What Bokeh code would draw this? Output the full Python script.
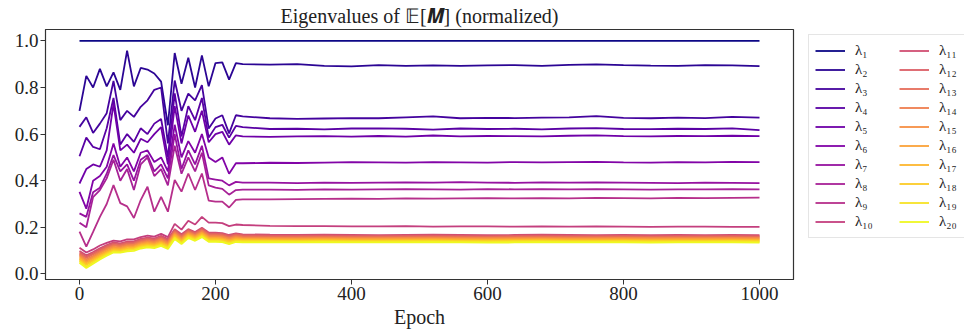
from bokeh.plotting import figure
from bokeh.models import Legend, LegendItem, FixedTicker, Range1d, PrintfTickFormatter
from bokeh.palettes import Plasma256
from bokeh.embed import file_html
from bokeh.resources import INLINE

EPOCHS = [0, 10, 20, 30, 40, 50, 60, 70, 80, 90, 100, 110, 120, 130, 140, 150, 160, 170, 180, 190,
          200, 210, 220, 230, 240, 280, 320, 360, 400, 440, 480, 520, 560, 600, 640, 680, 720, 760,
          800, 840, 880, 920, 960, 1000]

lam1 = [1.0, 1.0, 1.0, 1.0, 1.0, 1.0, 1.0, 1.0, 1.0, 1.0, 1.0, 1.0, 1.0, 1.0, 1.0, 1.0, 1.0, 1.0, 1.0, 1.0,
        1.0, 1.0, 1.0, 1.0, 1.0, 1.0, 1.0, 1.0, 1.0, 1.0, 1.0, 1.0, 1.0, 1.0, 1.0, 1.0, 1.0, 1.0,
        1.0, 1.0, 1.0, 1.0, 1.0, 1.0]
lam2 = [0.70, 0.85, 0.80, 0.88, 0.805, 0.865, 0.79, 0.958, 0.805, 0.884, 0.877, 0.86, 0.825, 0.638, 0.948,
        0.816, 0.928, 0.80, 0.938, 0.805, 0.905, 0.908, 0.834, 0.905, 0.90,
        0.898, 0.900, 0.893, 0.891, 0.896, 0.893, 0.895, 0.893, 0.895, 0.896, 0.893, 0.897, 0.899, 0.896,
        0.894, 0.893, 0.896, 0.895, 0.892]
lam3 = [0.631, 0.672, 0.605, 0.645, 0.69, 0.828, 0.66, 0.70, 0.674, 0.717, 0.745, 0.79, 0.80, 0.56, 0.83,
        0.70, 0.774, 0.745, 0.81, 0.624, 0.667, 0.681, 0.603, 0.681, 0.676,
        0.668, 0.665, 0.667, 0.669, 0.668, 0.672, 0.676, 0.668, 0.670, 0.669, 0.671, 0.672, 0.677, 0.670,
        0.668, 0.671, 0.669, 0.674, 0.671]
lam4 = [0.505, 0.585, 0.545, 0.535, 0.625, 0.755, 0.555, 0.60, 0.567, 0.625, 0.60, 0.645, 0.665, 0.50, 0.775,
        0.59, 0.72, 0.66, 0.755, 0.585, 0.63, 0.64, 0.585, 0.635, 0.63,
        0.622, 0.623, 0.620, 0.624, 0.625, 0.623, 0.619, 0.624, 0.622, 0.623, 0.620, 0.624, 0.626, 0.622,
        0.621, 0.623, 0.622, 0.625, 0.617]
lam5 = [0.388, 0.45, 0.47, 0.46, 0.53, 0.73, 0.53, 0.555, 0.52, 0.58, 0.565, 0.60, 0.63, 0.47, 0.72,
        0.56, 0.68, 0.61, 0.70, 0.565, 0.60, 0.61, 0.555, 0.595, 0.59,
        0.588, 0.590, 0.591, 0.589, 0.592, 0.589, 0.594, 0.590, 0.592, 0.591, 0.590, 0.593, 0.595, 0.591,
        0.590, 0.592, 0.591, 0.593, 0.591]
lam6 = [0.352, 0.28, 0.40, 0.42, 0.46, 0.56, 0.46, 0.50, 0.44, 0.52, 0.53, 0.48, 0.50, 0.44, 0.64,
        0.50, 0.57, 0.52, 0.60, 0.50, 0.48, 0.50, 0.43, 0.475, 0.475,
        0.477, 0.476, 0.478, 0.480, 0.479, 0.478, 0.480, 0.479, 0.478, 0.480, 0.479, 0.480, 0.481, 0.479,
        0.478, 0.480, 0.479, 0.481, 0.480]
lam7 = [0.26, 0.245, 0.35, 0.37, 0.43, 0.51, 0.44, 0.47, 0.40, 0.49, 0.51, 0.44, 0.47, 0.41, 0.60,
        0.45, 0.53, 0.47, 0.55, 0.41, 0.405, 0.40, 0.38, 0.395, 0.392,
        0.392, 0.390, 0.392, 0.391, 0.392, 0.393, 0.392, 0.394, 0.392, 0.391, 0.393, 0.392, 0.393, 0.392,
        0.391, 0.390, 0.392, 0.391, 0.390]
lam8 = [0.22, 0.20, 0.33, 0.36, 0.41, 0.49, 0.40, 0.45, 0.36, 0.47, 0.50, 0.42, 0.45, 0.38, 0.55,
        0.43, 0.50, 0.44, 0.52, 0.38, 0.37, 0.365, 0.34, 0.36, 0.362,
        0.362, 0.361, 0.363, 0.362, 0.363, 0.364, 0.363, 0.362, 0.364, 0.363, 0.364, 0.363, 0.364, 0.363,
        0.362, 0.363, 0.363, 0.364, 0.363]
lam9 = [0.181, 0.117, 0.18, 0.245, 0.30, 0.381, 0.304, 0.29, 0.24, 0.317, 0.374, 0.267, 0.331, 0.267, 0.403,
        0.353, 0.431, 0.36, 0.431, 0.315, 0.31, 0.31, 0.285, 0.318, 0.32,
        0.320, 0.321, 0.322, 0.323, 0.322, 0.324, 0.323, 0.324, 0.325, 0.324, 0.325, 0.324, 0.326, 0.325,
        0.324, 0.326, 0.325, 0.326, 0.327]
lam10 = [0.112, 0.092, 0.105, 0.122, 0.133, 0.143, 0.140, 0.148, 0.148, 0.158, 0.164, 0.160, 0.172, 0.158, 0.215,
         0.190, 0.228, 0.212, 0.245, 0.220, 0.220, 0.218, 0.205, 0.212, 0.210,
         0.206, 0.205, 0.205, 0.204, 0.204, 0.205, 0.203, 0.204, 0.204, 0.203, 0.204, 0.203, 0.204, 0.203,
         0.202, 0.203, 0.203, 0.202, 0.202]
lam11 = [0.098, 0.080, 0.094, 0.110, 0.124, 0.135, 0.131, 0.139, 0.140, 0.150, 0.156, 0.152, 0.163, 0.150, 0.192,
         0.170, 0.192, 0.180, 0.198, 0.178, 0.177, 0.175, 0.167, 0.174, 0.170,
         0.168, 0.167, 0.168, 0.167, 0.166, 0.167, 0.168, 0.167, 0.166, 0.167, 0.168, 0.167, 0.166, 0.167,
         0.166, 0.167, 0.166, 0.167, 0.166]
lam12 = [0.092, 0.074, 0.088, 0.105, 0.119, 0.130, 0.127, 0.134, 0.135, 0.145, 0.151, 0.147, 0.158, 0.145, 0.187,
         0.165, 0.188, 0.176, 0.194, 0.174, 0.173, 0.171, 0.163, 0.170, 0.166,
         0.164, 0.163, 0.164, 0.163, 0.163, 0.163, 0.164, 0.163, 0.162, 0.163, 0.164, 0.163, 0.163, 0.163,
         0.162, 0.163, 0.163, 0.163, 0.162]
lam13 = [0.087, 0.068, 0.083, 0.099, 0.114, 0.125, 0.122, 0.130, 0.131, 0.141, 0.147, 0.143, 0.153, 0.140, 0.183,
         0.161, 0.184, 0.172, 0.189, 0.169, 0.168, 0.166, 0.158, 0.166, 0.162,
         0.160, 0.160, 0.160, 0.159, 0.159, 0.160, 0.160, 0.159, 0.159, 0.160, 0.160, 0.159, 0.159, 0.160,
         0.159, 0.159, 0.159, 0.160, 0.159]
lam14 = [0.081, 0.062, 0.077, 0.094, 0.109, 0.121, 0.118, 0.125, 0.126, 0.136, 0.142, 0.138, 0.149, 0.136, 0.178,
         0.156, 0.179, 0.167, 0.185, 0.165, 0.164, 0.162, 0.154, 0.162, 0.158,
         0.156, 0.156, 0.157, 0.156, 0.156, 0.156, 0.157, 0.156, 0.155, 0.156, 0.157, 0.156, 0.156, 0.156,
         0.155, 0.156, 0.156, 0.156, 0.155]
lam15 = [0.076, 0.056, 0.072, 0.089, 0.104, 0.116, 0.113, 0.120, 0.122, 0.132, 0.137, 0.134, 0.144, 0.131, 0.173,
         0.151, 0.175, 0.163, 0.180, 0.160, 0.160, 0.158, 0.150, 0.158, 0.154,
         0.153, 0.152, 0.153, 0.152, 0.152, 0.153, 0.153, 0.152, 0.152, 0.153, 0.153, 0.152, 0.152, 0.153,
         0.152, 0.152, 0.152, 0.153, 0.152]
lam16 = [0.070, 0.050, 0.066, 0.083, 0.098, 0.111, 0.109, 0.116, 0.117, 0.127, 0.133, 0.129, 0.139, 0.126, 0.169,
         0.147, 0.171, 0.159, 0.176, 0.156, 0.155, 0.153, 0.145, 0.154, 0.150,
         0.149, 0.149, 0.150, 0.149, 0.149, 0.149, 0.150, 0.149, 0.148, 0.149, 0.150, 0.149, 0.149, 0.149,
         0.148, 0.149, 0.149, 0.149, 0.148]
lam17 = [0.065, 0.044, 0.061, 0.078, 0.093, 0.106, 0.104, 0.111, 0.113, 0.123, 0.128, 0.125, 0.134, 0.121, 0.164,
         0.142, 0.167, 0.155, 0.171, 0.151, 0.151, 0.149, 0.141, 0.149, 0.147,
         0.146, 0.145, 0.146, 0.145, 0.145, 0.146, 0.146, 0.145, 0.145, 0.146, 0.146, 0.145, 0.145, 0.146,
         0.145, 0.145, 0.145, 0.146, 0.145]
lam18 = [0.059, 0.038, 0.055, 0.073, 0.088, 0.101, 0.100, 0.106, 0.108, 0.118, 0.123, 0.120, 0.130, 0.117, 0.159,
         0.137, 0.163, 0.151, 0.167, 0.147, 0.147, 0.145, 0.137, 0.145, 0.143,
         0.142, 0.142, 0.143, 0.142, 0.142, 0.142, 0.143, 0.142, 0.141, 0.142, 0.143, 0.142, 0.142, 0.142,
         0.141, 0.142, 0.142, 0.142, 0.141]
lam19 = [0.054, 0.031, 0.050, 0.067, 0.083, 0.097, 0.095, 0.102, 0.104, 0.114, 0.119, 0.116, 0.125, 0.112, 0.155,
         0.133, 0.158, 0.146, 0.162, 0.142, 0.142, 0.140, 0.132, 0.141, 0.139,
         0.139, 0.138, 0.139, 0.138, 0.138, 0.139, 0.139, 0.138, 0.138, 0.139, 0.139, 0.138, 0.138, 0.139,
         0.138, 0.138, 0.138, 0.139, 0.138]
lam20 = [0.048, 0.025, 0.044, 0.062, 0.078, 0.092, 0.091, 0.097, 0.099, 0.109, 0.114, 0.111, 0.120, 0.107, 0.150,
         0.128, 0.154, 0.142, 0.158, 0.138, 0.138, 0.136, 0.128, 0.137, 0.135,
         0.135, 0.135, 0.136, 0.135, 0.135, 0.135, 0.136, 0.135, 0.134, 0.135, 0.136, 0.135, 0.135, 0.135,
         0.134, 0.135, 0.135, 0.135, 0.134]

SERIES = [lam1, lam2, lam3, lam4, lam5, lam6, lam7, lam8, lam9, lam10,
          lam11, lam12, lam13, lam14, lam15, lam16, lam17, lam18, lam19, lam20]
LABELS = ["λ₁", "λ₂", "λ₃", "λ₄", "λ₅", "λ₆", "λ₇", "λ₈", "λ₉", "λ₁₀",
          "λ₁₁", "λ₁₂", "λ₁₃", "λ₁₄", "λ₁₅", "λ₁₆", "λ₁₇", "λ₁₈", "λ₁₉", "λ₂₀"]
X_TICKS = [0, 200, 400, 600, 800, 1000]
Y_TICKS = [0.0, 0.2, 0.4, 0.6, 0.8, 1.0]

FONT = "Liberation Serif"
FRAME = "#333333"

p = figure(frame_width=748, frame_height=250, output_backend="svg", toolbar_location=None,
           x_range=Range1d(-50, 1050), y_range=Range1d(-0.024, 1.049),
           min_border_left=45, min_border_top=29, min_border_bottom=57, min_border_right=171,
           background_fill_color="white", border_fill_color="white")

p.title.text = "Eigenvalues of 𝔼[𝑴] (normalized)"
p.title.align = "center"
p.title.vertical_align = "middle"
p.title.text_font = FONT
p.title.text_font_size = "20px"
p.title.text_font_style = "normal"
p.title.text_color = "#222222"
p.title.standoff = 4

p.xgrid.visible = False
p.ygrid.visible = False
p.outline_line_color = FRAME
p.outline_line_width = 1.2

for ax, ticks, fmt in ((p.xaxis[0], X_TICKS, "%d"), (p.yaxis[0], Y_TICKS, "%.1f")):
    ax.ticker = FixedTicker(ticks=ticks)
    ax.formatter = PrintfTickFormatter(format=fmt)
    ax.major_label_text_font = FONT
    ax.major_label_text_font_size = "19px"
    ax.major_label_text_color = "#222222"
    ax.axis_line_color = FRAME
    ax.major_tick_line_color = FRAME
    ax.major_tick_out = 5
    ax.major_tick_in = 0
    ax.minor_tick_out = 0
    ax.minor_tick_in = 0
    ax.major_label_standoff = 2

p.xaxis.axis_label = "Epoch"
p.xaxis.axis_label_text_font = FONT
p.xaxis.axis_label_text_font_size = "20px"
p.xaxis.axis_label_text_font_style = "normal"
p.xaxis.axis_label_text_color = "#222222"
p.xaxis.axis_label_standoff = 3

items = []
for i, (ys, lab) in enumerate(zip(SERIES, LABELS)):
    color = Plasma256[round(i * 255 / 19)]
    r = p.line(EPOCHS, ys, line_color=color, line_width=1.8)
    items.append(LegendItem(label=lab, renderers=[r]))

legend = Legend(items=items, ncols=2, location=(15, 41), orientation="vertical",
                label_text_font=FONT, label_text_font_size="15px", label_text_color="#222222",
                glyph_width=30, glyph_height=19, label_height=19, label_width=44, spacing=0,
                padding=6, margin=0, label_standoff=10,
                border_line_color="#cccccc", border_line_width=1,
                background_fill_alpha=0.8)
p.add_layout(legend, "right")

open("out.html", "w").write(file_html(p, INLINE))
